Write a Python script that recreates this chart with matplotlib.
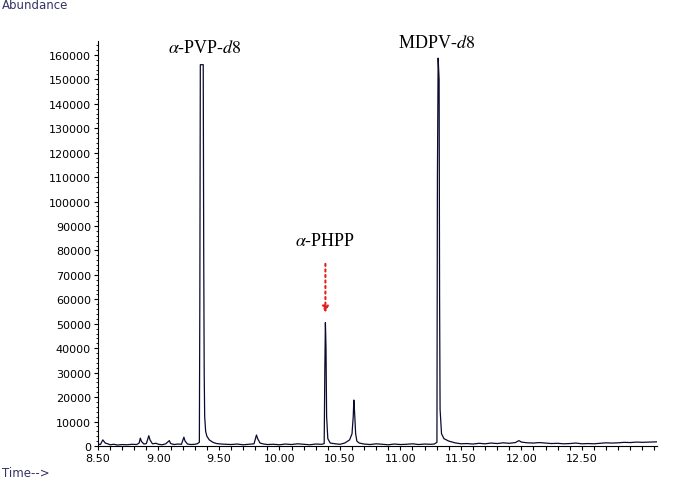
import matplotlib
matplotlib.use('Agg')
import matplotlib.pyplot as plt
from matplotlib.ticker import MultipleLocator, FixedLocator

# ----------- chromatogram ----------- #
time = [8.50, 8.52, 8.54, 8.56, 8.58, 8.60, 8.63, 8.66, 8.70, 8.74, 8.78, 8.82, 8.84, 8.85, 8.86,
        8.88, 8.90, 8.92, 8.93, 8.95, 8.98, 9.00, 9.03, 9.06, 9.09, 9.10, 9.13, 9.16, 9.19, 9.21,
        9.22, 9.24, 9.27, 9.30, 9.32, 9.338, 9.342, 9.346, 9.370, 9.374, 9.378, 9.382, 9.39, 9.40,
        9.42, 9.45, 9.48, 9.52, 9.56, 9.60, 9.65, 9.70, 9.75, 9.79, 9.81, 9.82, 9.84, 9.87, 9.90,
        9.95, 10.00, 10.05, 10.10, 10.15, 10.20, 10.25, 10.30, 10.35, 10.37, 10.375, 10.38, 10.385,
        10.39, 10.40, 10.42, 10.46, 10.50, 10.54, 10.58, 10.60, 10.61, 10.615, 10.62, 10.63, 10.64,
        10.66, 10.70, 10.75, 10.80, 10.85, 10.90, 10.95, 11.00, 11.05, 11.10, 11.15, 11.20, 11.25,
        11.28, 11.302, 11.306, 11.312, 11.320, 11.324, 11.328, 11.34, 11.36, 11.40, 11.45, 11.50, 11.55,
        11.60, 11.65, 11.70, 11.75, 11.80, 11.85, 11.90, 11.95, 11.98, 12.00, 12.05, 12.10, 12.15,
        12.20, 12.25, 12.30, 12.35, 12.40, 12.45, 12.50, 12.55, 12.60, 12.65, 12.70, 12.75, 12.80,
        12.85, 12.90, 12.95, 13.00, 13.05, 13.12]
abundance = [800, 600, 2500, 1200, 900, 500, 700, 400, 600, 500, 700, 600, 1200, 3200, 1800,
             800, 1000, 4200, 2500, 900, 1100, 700, 500, 900, 2200, 1000, 600, 800, 700, 3600,
             2000, 800, 600, 700, 900, 1500, 60000, 156000, 156000, 80000, 30000, 12000, 6000, 4000,
             2500, 1500, 1000, 800, 700, 600, 800, 500, 700, 900, 4500, 3000, 1200, 800, 600,
             700, 500, 800, 600, 900, 700, 500, 800, 700, 1000, 30000, 50500, 40000,
             12000, 3000, 1200, 900, 700, 1200, 2500, 5000, 12000, 18800, 15000, 5000, 2000,
             1200, 800, 600, 900, 700, 500, 800, 600, 700, 900, 600, 800, 700,
             800, 1500, 110000, 158700, 150000, 60000, 15000, 5000, 3000, 2000, 1300, 900, 1000,
             800, 1100, 900, 1200, 1000, 1300, 1100, 1400, 2200, 1600, 1300, 1200, 1400,
             1200, 1000, 1100, 900, 1000, 1200, 900, 1000, 900, 1100, 1300, 1200, 1300,
             1500, 1400, 1600, 1500, 1600, 1700]

x_major = [8.5, 9.0, 9.5, 10.0, 10.5, 11.0, 11.5, 12.0, 12.5]
x_labels = ['8.50', '9.00', '9.50', '10.00', '10.50', '11.00', '11.50', '12.00', '12.50']
y_major = [0, 10000, 20000, 30000, 40000, 50000, 60000, 70000, 80000,
           90000, 100000, 110000, 120000, 130000, 140000, 150000, 160000]

# ----------- plot ----------- #
fig = plt.figure(figsize=(6.73, 4.81), dpi=100)
ax = fig.add_axes([0.1456, 0.0707, 0.8304, 0.842])

ax.plot(time, abundance, color='#0a0a30', linewidth=0.9)

ax.set_xlim(8.5, 13.12)
ax.set_ylim(0, 165700)
ax.spines['top'].set_visible(False)
ax.spines['right'].set_visible(False)

ax.xaxis.set_major_locator(FixedLocator(x_major))
ax.set_xticklabels(x_labels)
ax.xaxis.set_minor_locator(MultipleLocator(0.1))
ax.yaxis.set_major_locator(FixedLocator(y_major))
ax.set_yticklabels([str(v) for v in y_major])
ax.yaxis.set_minor_locator(MultipleLocator(2000))
ax.tick_params(axis='both', which='major', labelsize=8, length=3, width=0.8, pad=2)
ax.tick_params(axis='x', which='minor', length=3, width=0.8)
ax.tick_params(axis='y', which='minor', length=1.5, width=0.6)

# peak labels
serif = 'Liberation Serif'
lab = dict(ha='center', va='center', fontsize=13, family=serif, math_fontfamily='stix')
ax.text(9.385, 163200, r'$\mathit{\alpha}$-PVP-$\mathit{d8}$', **lab)
ax.text(11.30, 164900, r'MDPV-$\mathit{d8}$', **lab)
ax.text(10.38, 83900, r'$\mathit{\alpha}$-PHPP', **lab)
ax.annotate('', xy=(10.38, 54500), xytext=(10.38, 74500),
            arrowprops=dict(arrowstyle='-|>', color='#e0201a', linestyle=':', lw=1.5,
                            mutation_scale=9, shrinkA=0, shrinkB=0))

fig.text(0.003, 1.003, 'Abundance', fontsize=8.5, color='#333366', ha='left', va='top')
fig.text(0.003, 0.016, 'Time-->', fontsize=8.5, color='#333366', ha='left', va='center')

fig.savefig('out.png', dpi=100)
